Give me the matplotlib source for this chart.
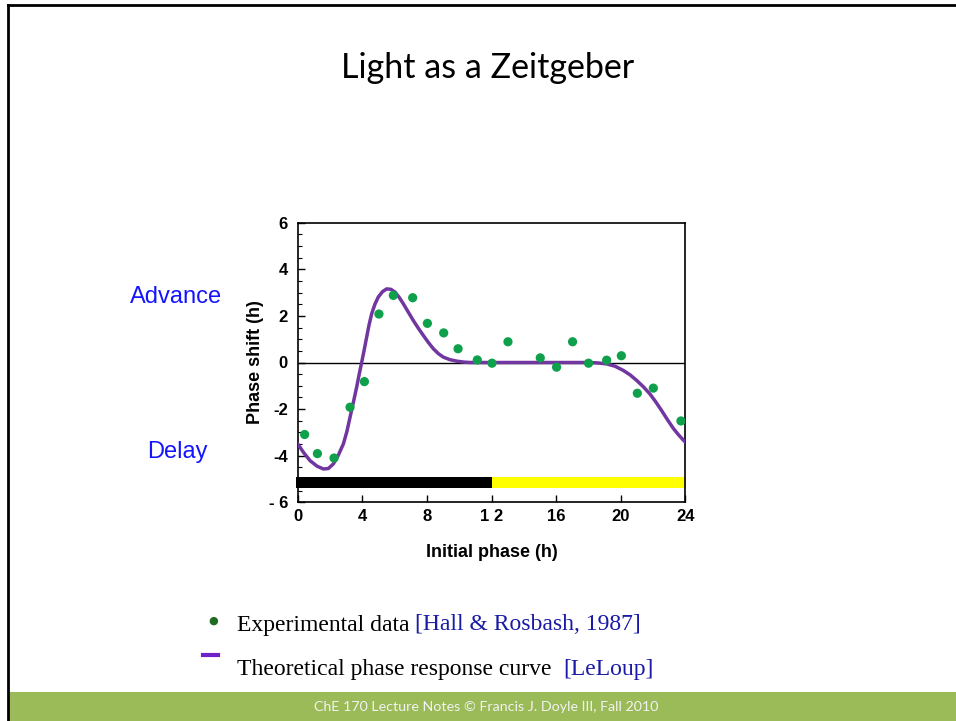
import matplotlib
matplotlib.use("Agg")
import matplotlib.pyplot as plt
from matplotlib.patches import Rectangle
from matplotlib.lines import Line2D
from matplotlib.ticker import MultipleLocator

# ---- data ----
exp_phase = [0.43, 1.22, 2.25, 3.24, 4.13, 5.03, 5.92, 7.12, 8.03, 9.04, 9.93,
             11.12, 12.03, 13.02, 15.02, 16.03, 17.02, 18.01, 19.13, 20.04,
             21.03, 22.02, 23.73]
exp_shift = [-3.09, -3.91, -4.10, -1.92, -0.82, 2.08, 2.88, 2.78, 1.68, 1.27, 0.59,
             0.11, -0.03, 0.89, 0.20, -0.20, 0.89, -0.03, 0.10, 0.29,
             -1.32, -1.10, -2.51]

prc_phase = [0.0, 0.35, 0.76, 1.2, 1.59, 1.9, 2.21, 2.5, 2.83, 3.05, 3.24, 3.45,
             3.65, 3.8, 3.96, 4.12, 4.27, 4.42, 4.58, 4.78, 4.99, 5.25, 5.51,
             5.77, 6.03, 6.28, 6.54, 6.85, 7.16, 7.47, 7.78, 8.09, 8.40, 8.71,
             9.02, 9.43, 9.84, 10.25, 10.67, 12.0, 14.0, 16.0, 17.5, 18.1,
             18.6, 19.13, 19.65, 20.16, 20.58, 20.99, 21.4, 21.81, 22.17,
             22.53, 22.9, 23.26, 23.6, 24.0]
prc_shift = [-3.49, -3.85, -4.21, -4.45, -4.57, -4.55, -4.35, -4.0, -3.49, -2.95,
             -2.35, -1.70, -1.06, -0.53, 0.0, 0.55, 1.09, 1.62, 2.09, 2.50,
             2.81, 3.04, 3.16, 3.14, 3.02, 2.80, 2.52, 2.16, 1.80, 1.47,
             1.16, 0.86, 0.59, 0.38, 0.23, 0.12, 0.06, 0.02, 0.0, 0.0, 0.0,
             0.0, 0.0, 0.0, -0.02, -0.06, -0.16, -0.34, -0.53, -0.77, -1.04,
             -1.35, -1.69, -2.06, -2.46, -2.83, -3.12, -3.42]

xticks = [0, 4, 8, 12, 16, 20, 24]
xtick_labels = ["0", "4", "8", "1 2", "16", "20", "24"]
yticks = [-6, -4, -2, 0, 2, 4, 6]
ytick_labels = ["- 6", "-4", "-2", "0", "2", "4", "6"]

dark_period = (0, 12)
light_period = (12, 24)

W, H = 956, 721
fig = plt.figure(figsize=(W / 100, H / 100), dpi=100)
fig.patch.set_facecolor("white")

# slide border lines and footer band
fig.add_artist(Line2D([7.5 / W, 1], [1 - 5 / H, 1 - 5 / H], color="black", lw=2.0,
                      transform=fig.transFigure))
fig.add_artist(Line2D([8 / W, 8 / W], [0, 1 - 5 / H], color="black", lw=2.0,
                      transform=fig.transFigure))
fig.add_artist(Rectangle((9 / W, 0), 1, 29 / H, transform=fig.transFigure,
                         facecolor="#9BBB59", edgecolor="none"))
fig.text(486 / W, 1 - 707 / H,
         "ChE 170 Lecture Notes \u00a9 Francis J. Doyle III, Fall 2010",
         ha="center", va="center", color="#F2F2F2", fontsize=10.3,
         family=["Lato", "DejaVu Sans"])

fig.text(488 / W, 1 - 68 / H, "Light as a Zeitgeber", ha="center", va="center",
         fontsize=24.5, family=["Lato", "DejaVu Sans"], color="black")

fig.text(176 / W, 1 - 297 / H, "Advance", ha="center", va="center",
         fontsize=17, color="#1414FF", family="Liberation Sans")
fig.text(177 / W, 1 - 452 / H, "Delay", ha="center", va="center",
         fontsize=17, color="#1414FF", family="Liberation Sans")

# main axes
ax = fig.add_axes([297.7 / W, 1 - 502.3 / H, 387.6 / W, 279.6 / H])
ax.set_xlim(0, 24)
ax.set_ylim(-6, 6)
ax.axhline(0, color="black", lw=1.0, zorder=1)

ax.add_patch(Rectangle((dark_period[0] - 0.12, -5.38), dark_period[1] - dark_period[0] + 0.12,
                       0.45, facecolor="black", edgecolor="none", clip_on=False, zorder=2))
ax.add_patch(Rectangle((light_period[0], -5.38), light_period[1] - light_period[0] + 0.05,
                       0.45, facecolor="#FFFF00", edgecolor="none", clip_on=False, zorder=2))

ax.plot(prc_phase, prc_shift, color="#7136A0", lw=2.5, zorder=3,
        solid_joinstyle="round", solid_capstyle="round")
ax.scatter(exp_phase, exp_shift, s=44, color="#0EA04A", edgecolors="none", zorder=4)

ax.set_xticks(xticks)
ax.set_xticklabels(xtick_labels)
ax.set_yticks(yticks)
ax.set_yticklabels(ytick_labels)
ax.yaxis.set_minor_locator(MultipleLocator(0.5))
ax.tick_params(axis="both", which="major", direction="in", length=5, width=1,
               labelsize=12)
ax.tick_params(axis="y", which="major", pad=7)
ax.tick_params(axis="x", which="major", pad=5)
ax.tick_params(axis="y", which="minor", direction="in", length=3, width=0.8)
for lab in ax.get_xticklabels() + ax.get_yticklabels():
    lab.set_fontweight("bold")
    lab.set_family("Liberation Sans")
for sp in ax.spines.values():
    sp.set_linewidth(1.2)

ax.set_xlabel("Initial phase (h)", fontsize=13, fontweight="bold",
              family="Liberation Sans", labelpad=14)
ax.set_ylabel("Phase shift (h)", fontsize=13, fontweight="bold",
              family="Liberation Sans", labelpad=3)

# legend-like annotations
fig.text(213 / W, 1 - 621 / H, "\u25cf", ha="center", va="center", fontsize=8,
         color="#1F6B1F", family="DejaVu Sans")
fig.add_artist(Line2D([203 / W, 218 / W], [1 - 655 / H, 1 - 655 / H], color="#7020C8",
                      lw=3, transform=fig.transFigure))

t1 = fig.text(237 / W, 1 - 625 / H, "Experimental data ", ha="left", va="center",
              fontsize=17, family="Liberation Serif", color="black")
fig.canvas.draw()
bb = t1.get_window_extent()
fig.text(bb.x1 / W, 1 - 625 / H, "[Hall & Rosbash, 1987]", ha="left", va="center",
         fontsize=17, family="Liberation Serif", color="#1A1AA6")

t2 = fig.text(237 / W, 1 - 670 / H, "Theoretical phase response curve  ", ha="left",
              va="center", fontsize=17, family="Liberation Serif", color="black")
fig.canvas.draw()
bb2 = t2.get_window_extent()
fig.text(bb2.x1 / W, 1 - 670 / H, "[LeLoup]", ha="left", va="center",
         fontsize=17, family="Liberation Serif", color="#1A1AA6")

fig.savefig("out.png", dpi=100)
